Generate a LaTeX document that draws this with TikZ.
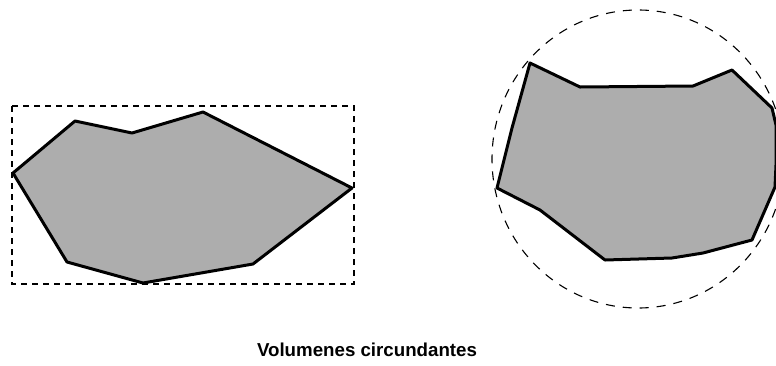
\documentclass[tikz,border=0pt]{standalone}
\usepackage{fontspec}
\setmainfont{Liberation Sans}
\begin{document}
\begin{tikzpicture}[x=1pt,y=-1pt,
  polyshape/.style={draw=black,line width=3pt,line join=round,fill=black!32},
  boundrect/.style={draw=black,line width=1.3pt,dash pattern=on 6pt off 5pt},
  boundcirc/.style={draw=black,line width=1.1pt,dash pattern=on 9pt off 8pt},
  caption/.style={font=\bfseries\fontsize{18.7}{21}\selectfont,inner sep=0pt}]
\useasboundingbox (0,0) rectangle (776,365);
% left: bounding box
\draw[polyshape] (13,173) -- (75,121) -- (132,133) -- (203,112) -- (352,188)
  -- (253,264) -- (143,283) -- (67,262) -- cycle;
\draw[boundrect] (12,106) rectangle (354,284);
% right: bounding sphere
\begin{scope}
\clip (0,0) rectangle (776,365);
\draw[polyshape] (530,63) -- (580,87) -- (693,86) -- (732,70) -- (772,108)
  -- (776,125) -- (776,165) -- (775,187) -- (752,240) -- (703,253)
  -- (672,258) -- (605,260) -- (540,210) -- (497,188) -- (512,128) -- cycle;
\draw[boundcirc] (638,159) ellipse[x radius=146,y radius=149];
\end{scope}
\node[caption] (cap) at (367,350) {Volumenes circundantes};
\end{tikzpicture}
\end{document}
